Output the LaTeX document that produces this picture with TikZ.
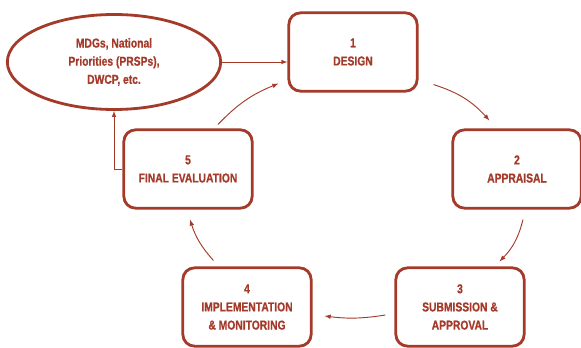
\documentclass[tikz,border=0pt]{standalone}
\usepackage{fontspec}
\newfontfamily\stagefont[FakeStretch=0.8,BoldFeatures={FakeBold=0.8}]{Liberation Sans}
\usetikzlibrary{shapes.geometric,calc}
\definecolor{cyclered}{HTML}{A33A2A}
\tikzset{
  stage/.style={draw=cyclered,line width=2.4pt,rounded corners=10pt,minimum width=3.85cm,
    minimum height=2.35cm,align=center,text=cyclered,
    font=\stagefont\bfseries\fontsize{11}{15.5}\selectfont},
  source/.style={stage,ellipse,rounded corners=0pt,minimum width=6.4cm,minimum height=2.85cm,inner sep=0pt},
  flow/.style={->,>=latex,draw=cyclered,line width=0.8pt}
}
\begin{document}
\begin{tikzpicture}[x=0.03cm,y=-0.03cm]
\useasboundingbox (0,0) rectangle (581,348);
\node[source] (src) at (114,62) {MDGs, National\\Priorities (PRSPs),\\DWCP, etc.};
\node[stage] (design) at (353,52) {1\\DESIGN};
\node[stage] (appraisal) at (517,169) {2\\APPRAISAL};
\node[stage] (approval) at (460,307) {3\\SUBMISSION \&\\APPROVAL};
\node[stage] (monitor) at (247,307) {4\\IMPLEMENTATION\\\& MONITORING};
\node[stage] (evaluation) at (188,169) {5\\FINAL EVALUATION};
%cycle
\draw[flow] ($(design.south east)+(15,-8)$) to[bend left=15] ($(appraisal.north west)+(38,-8)$);
\draw[flow] ($(appraisal.south)+(6,10)$) to[bend left=15] ($(approval.north east)+(-26,-5)$);
\draw[flow] ($(approval.west)+(-9,8)$) to[bend left=8] ($(monitor.east)+(12,9)$);
\draw[flow] ($(monitor.north west)+(32,-6)$) to[bend left=12] ($(evaluation.south)+(2,10)$);
\draw[flow] ($(evaluation.north)+(30,-4)$) to[bend left=12] ($(design.south west)+(-9,-9)$);
%inputs
\draw[flow] (src.east) -- (src.east -| design.west);
\draw[flow] (evaluation.west) -| (src.south);
\end{tikzpicture}
\end{document}
